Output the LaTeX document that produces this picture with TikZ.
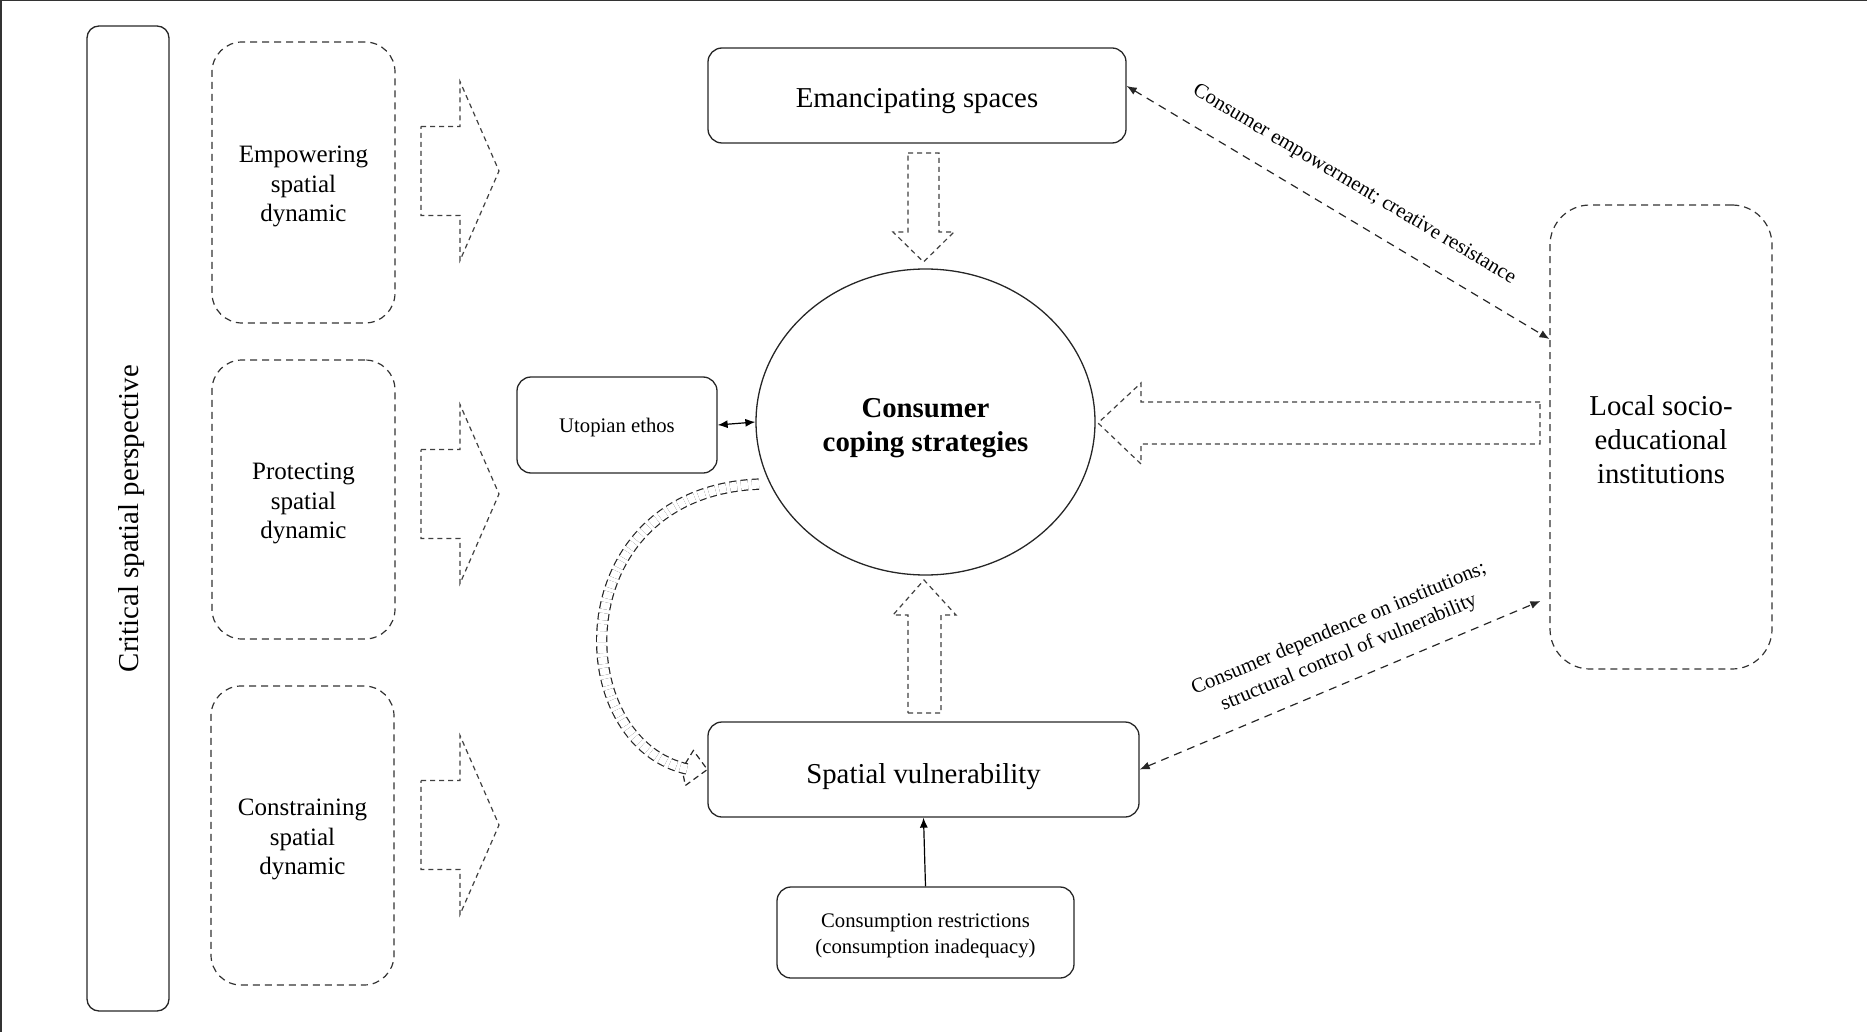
\documentclass[tikz,border=0pt]{standalone}
\usepackage{fontspec}
\setmainfont{Liberation Serif}
\usetikzlibrary{arrows.meta,shapes.geometric}
\begin{document}
\begin{tikzpicture}[x=0.5pt,y=-0.5pt,
  big/.style={font=\fontsize{14.4}{17}\selectfont},
  mid/.style={font=\fontsize{12.5}{14.9}\selectfont},
  small/.style={font=\fontsize{10.35}{13}\selectfont},
  txt/.style={inner sep=0pt, align=center},
  solidbox/.style={draw=black!85, line width=0.65pt, rounded corners=7pt, inner sep=0pt},
  dashbox/.style={draw=black!80, line width=0.6pt, dash pattern=on 3.5pt off 2.5pt, rounded corners=15pt, inner sep=0pt},
  blockarrow/.style={draw=black!75, line width=0.6pt, dash pattern=on 2.5pt off 2pt},
  dashconn/.style={draw=black!85, line width=0.6pt, dash pattern=on 4pt off 3pt},
  tip/.style={-{Latex[length=5pt,width=4pt]}},
  lbl/.style={small, inner sep=0pt, align=center}]
\useasboundingbox (0,0) rectangle (1867,1032);
\draw[line width=1pt, black!80] (0.5,1032) -- (0.5,0.5) -- (1867,0.5);

% left column
\node[solidbox, rotate=90, rounded corners=6pt, minimum width=492.5pt, minimum height=41pt] (crit) at (128,518.5) {};
\node[txt, big, rotate=90] (critt) at ([xshift=2pt]crit.center) {Critical spatial perspective};
\node[dashbox, minimum width=91.5pt, minimum height=140.5pt] (emp) at (303.5,182.5) {};
\node[txt, mid] (empt) at ([yshift=-2pt]emp.center) {Empowering\\spatial\\dynamic};
\node[dashbox, minimum width=91.5pt, minimum height=139.5pt] (prot) at (303.5,499.5) {};
\node[txt, mid] (prott) at ([yshift=-2pt]prot.center) {Protecting\\spatial\\dynamic};
\node[dashbox, minimum width=91.5pt, minimum height=149.5pt] (cons) at (302.5,835.5) {};
\node[txt, mid] (const) at ([yshift=-2pt]cons.center) {Constraining\\spatial\\dynamic};

% block arrows pointing right
\foreach \c in {171,494,825}{
  \draw[blockarrow] (421,\c-44.5) -- (460,\c-44.5) -- (460,\c-89.5) -- (499,\c) -- (460,\c+89.5) -- (460,\c+44.5) -- (421,\c+44.5) -- cycle;
}

% central nodes
\node[solidbox, minimum width=209pt, minimum height=47.5pt] (eman) at (917,95.5) {};
\node[txt, big] (emant) at ([yshift=-3pt]eman.center) {Emancipating spaces};
\node[draw=black!85, line width=0.65pt, ellipse, minimum width=169.5pt, minimum height=153pt, inner sep=0pt] (ccs) at (925.5,422) {};
\node[txt, font=\fontsize{14.4}{17.2}\selectfont\bfseries] (ccst) at ([yshift=-3pt]ccs.center) {Consumer\\coping strategies};
\node[solidbox, minimum width=100pt, minimum height=48pt] (utop) at (617,425) {};
\node[txt, small] (utopt) at ([yshift=-1.2pt]utop.center) {Utopian ethos};
\node[dashbox, rounded corners=20pt, minimum width=111pt, minimum height=232pt] (local) at (1661,437) {};
\node[txt, big] (localt) at ([yshift=-1.2pt]local.center) {Local socio-\\educational\\institutions};
\node[solidbox, minimum width=215.5pt, minimum height=47.5pt] (spat) at (923.5,769.5) {};
\node[txt, big] (spatt) at ([yshift=-3.5pt]spat.center) {Spatial vulnerability};
\node[solidbox, minimum width=148.5pt, minimum height=45.5pt] (restr) at (925.5,932.5) {};
\node[txt, small] (restrt) at ([yshift=-1.8pt]restr.center) {Consumption restrictions\\(consumption inadequacy)};

% vertical and horizontal block arrows
\draw[blockarrow] (908,153) -- (939,153) -- (939,232) -- (954,232) -- (923.5,262) -- (893,232) -- (908,232) -- cycle;
\draw[blockarrow] (908,713) -- (941,713) -- (941,615) -- (956,615) -- (924,580) -- (893,615) -- (908,615) -- cycle;
\draw[blockarrow] (1540,402) -- (1141,402) -- (1141,383) -- (1098,423) -- (1141,464) -- (1141,444) -- (1540,444) -- cycle;

% connectors
\draw[line width=0.6pt, {Latex[length=5pt,width=4pt]}-{Latex[length=5pt,width=4pt]}] (utop.east) -- (ccs.west);
\draw[line width=0.6pt, tip] (restr.north) -- (spat.south);
\draw[dashconn, {Latex[length=5pt,width=4pt]}-{Latex[length=5pt,width=4pt]}] ([yshift=4.75pt]eman.east) -- (local.west |- 0,339);
\draw[dashconn, {Latex[length=5pt,width=4pt]}-{Latex[length=5pt,width=4pt]}] (spat.east) -- ([xshift=-4.5pt]local.west |- 0,601);

\node[lbl, rotate=-30.8] (l1) at (1354,185) {Consumer empowerment; creative resistance};
\node[lbl, rotate=22.6] (l2) at (1344,641) {Consumer dependence on institutions;\\structural control of vulnerability};

% curved double dashed arrow
\draw[black!85, line width=0.6pt, double, double distance=4.5pt, dash pattern=on 3.5pt off 2pt]
  ([shift={(-5pt,-1pt)}]ccs.201) .. controls (560,492) and (565,745) .. ([xshift=-9pt]spat.west);
\draw[black!85, line width=0.6pt, dash pattern=on 3pt off 2pt]
  ([shift={(-11pt,3pt)}]spat.west) -- ([shift={(-7pt,9.5pt)}]spat.west) -- (spat.west) -- ([shift={(-11pt,-8pt)}]spat.west) -- ([shift={(-12pt,-3pt)}]spat.west);
\end{tikzpicture}
\end{document}
